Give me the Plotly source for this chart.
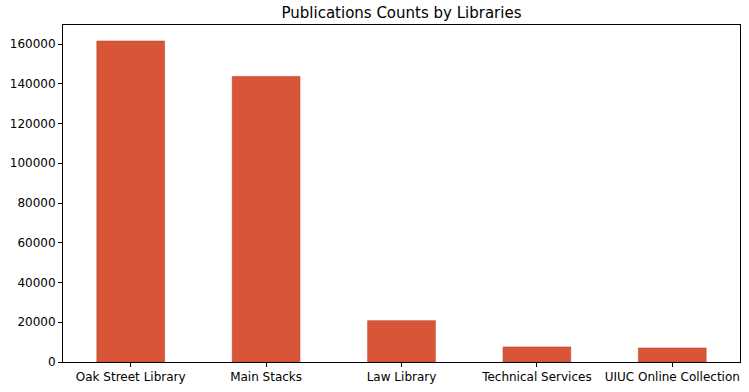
import plotly.graph_objects as go

libraries = ["Oak Street Library", "Main Stacks", "Law Library", "Technical Services", "UIUC Online Collection"]
counts = [161500, 143700, 20800, 7560, 7060]
y_ticks = [0, 20000, 40000, 60000, 80000, 100000, 120000, 140000, 160000]

fig = go.Figure(go.Bar(
    x=libraries, y=counts, width=0.5,
    marker=dict(color="#d85637", line=dict(color="#b8452a", width=0.6)),
))

fig.update_layout(
    width=749, height=392,
    margin=dict(l=63, r=9, t=25, b=30),
    paper_bgcolor="white", plot_bgcolor="white",
    font=dict(family="DejaVu Sans", size=12, color="black"),
    title=dict(text="Publications Counts by Libraries", x=0.5, xref="paper", xanchor="center",
               y=1 - 13/392, yanchor="middle", font=dict(size=15)),
    showlegend=False,
)
fig.update_xaxes(range=[-0.5, 4.5], showline=True, linecolor="black", linewidth=1, mirror=True,
                 ticks="outside", ticklen=4, tickcolor="black", showgrid=False)
fig.update_yaxes(range=[0, 169575], tickvals=y_ticks, ticktext=[str(v) for v in y_ticks],
                 showline=True, linecolor="black", linewidth=1, mirror=True,
                 ticks="outside", ticklen=4, tickcolor="black", showgrid=False, zeroline=False)

fig.write_html("out.html")
